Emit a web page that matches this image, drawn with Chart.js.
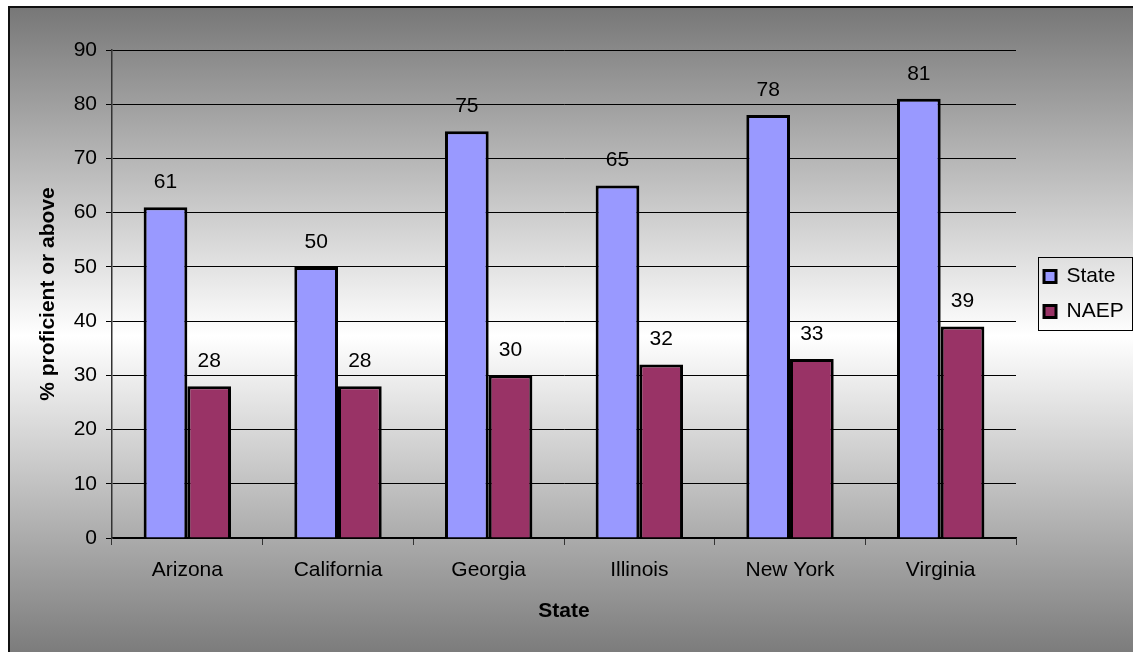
<!DOCTYPE html>
<html>
<head>
<meta charset="utf-8">
<script src="https://cdn.jsdelivr.net/npm/chart.js@4"></script>
<style>
  html, body { margin: 0; padding: 0; background: #fff; }
  #wrap { width: 1133px; height: 652px; }
</style>
</head>
<body>
<div id="wrap"><canvas id="myChart" width="1133" height="652"></canvas></div>
<script>
// Datos
const states = ['Arizona', 'California', 'Georgia', 'Illinois', 'New York', 'Virginia'];
const stateValues = [61, 50, 75, 65, 78, 81];
const naepValues = [28, 28, 30, 32, 33, 39];
const yTicks = [0, 10, 20, 30, 40, 50, 60, 70, 80, 90];

const FONT = 'Liberation Sans, Arial, sans-serif';

// Fondo degradado con marco
const backgroundPlugin = {
    id: 'background',
    beforeDraw(chart) {
        const c = chart.ctx;
        const h = chart.height;
        const g = c.createLinearGradient(0, 7, 0, h);
        g.addColorStop(0, '#777777');
        g.addColorStop(0.51, '#ffffff');
        g.addColorStop(1, '#7c7c7c');
        c.save();
        c.fillStyle = g;
        c.fillRect(9, 7, chart.width - 9, h - 7);
        c.strokeStyle = '#111';
        c.lineWidth = 2;
        c.strokeRect(9, 7, chart.width + 10, h + 10);
        c.restore();
    }
};

// Colocar la leyenda junto al area del grafico y dibujar su marco
const legendPlugin = {
    id: 'legendFrame',
    afterLayout(chart) {
        const lg = chart.legend;
        const area = chart.chartArea;
        lg.left += 14;
        lg.right += 14;
        lg.top = area.top;
        lg.bottom = area.bottom;
        lg.height = area.bottom - area.top;
    },
    afterDraw(chart) {
        const boxes = chart.legend.legendHitBoxes;
        if (!boxes || !boxes.length) return;
        const first = boxes[0];
        const c = chart.ctx;
        c.save();
        c.strokeStyle = '#000';
        c.lineWidth = 1;
        c.strokeRect(Math.round(first.left) - 5.5, Math.round(first.top) - 8.5, 94, 73);
        c.restore();
    }
};

// Etiquetas de valores encima de las barras
const valueLabels = {
    id: 'valueLabels',
    afterDatasetsDraw(chart) {
        const c = chart.ctx;
        c.save();
        c.font = '21px ' + FONT;
        c.fillStyle = '#000';
        c.textAlign = 'center';
        c.textBaseline = 'middle';
        chart.data.datasets.forEach((ds, i) => {
            chart.getDatasetMeta(i).data.forEach((bar, j) => {
                c.fillText(ds.data[j], bar.x, bar.y - 25);
            });
        });
        c.restore();
    }
};

const ctx = document.getElementById('myChart').getContext('2d');
new Chart(ctx, {
    type: 'bar',
    data: {
        labels: states,
        datasets: [{
            label: 'State',
            data: stateValues,
            backgroundColor: '#9999ff',
            borderColor: '#000',
            borderWidth: 3
        }, {
            label: 'NAEP',
            data: naepValues,
            backgroundColor: '#993366',
            borderColor: '#000',
            borderWidth: 3
        }]
    },
    options: {
        responsive: false,
        animation: false,
        devicePixelRatio: 1,
        categoryPercentage: 0.58,
        barPercentage: 1.0,
        layout: { padding: { top: 50, left: 0, right: 13.3, bottom: 0 } },
        plugins: {
            tooltip: { enabled: false },
            legend: {
                position: 'right',
                labels: {
                    font: { family: FONT, size: 21 },
                    color: '#000',
                    boxWidth: 12,
                    boxHeight: 12,
                    padding: 14
                }
            }
        },
        scales: {
            x: {
                afterFit(scale) { scale.height = 114; },
                grid: {
                    display: true,
                    drawOnChartArea: false,
                    drawTicks: true,
                    tickLength: 7,
                    color: '#333'
                },
                border: { display: true, color: '#000', width: 1.5 },
                ticks: {
                    font: { family: FONT, size: 21 },
                    color: '#000',
                    padding: 13,
                    maxRotation: 0
                },
                title: {
                    display: true,
                    text: 'State',
                    font: { family: FONT, size: 21, weight: 'bold' },
                    color: '#000',
                    padding: { top: 0, bottom: 28 }
                }
            },
            y: {
                min: 0,
                max: 90,
                afterFit(scale) { scale.width = 112; },
                afterBuildTicks(scale) { scale.ticks = yTicks.map(v => ({ value: v })); },
                grid: {
                    color: '#000',
                    lineWidth: 1,
                    tickLength: 6
                },
                border: { display: true, color: '#333', width: 1.5 },
                ticks: {
                    font: { family: FONT, size: 21 },
                    color: '#000',
                    padding: 9
                },
                title: {
                    display: true,
                    text: '% proficient or above',
                    font: { family: FONT, size: 21, weight: 'bold' },
                    color: '#000',
                    padding: { top: 36, bottom: 0 }
                }
            }
        }
    },
    plugins: [backgroundPlugin, legendPlugin, valueLabels]
});
</script>
</body>
</html>
